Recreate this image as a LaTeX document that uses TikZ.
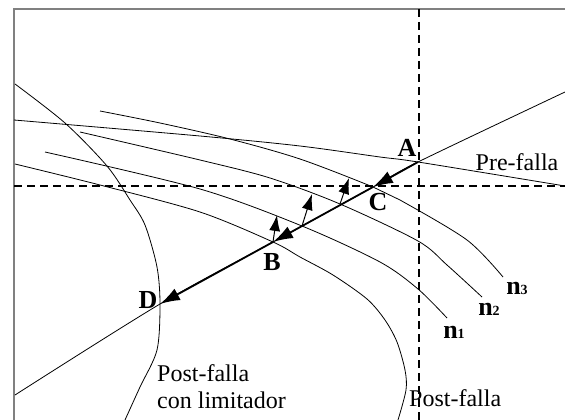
\documentclass[tikz,border=0pt]{standalone}
\usepackage{fontspec}
\setmainfont{Liberation Serif}
\usetikzlibrary{arrows.meta}

\begin{document}
\begin{tikzpicture}[
  x=1pt, y=-1pt,
  font=\fontsize{24}{27}\selectfont,
  >={Latex[length=20pt,width=13pt]},
  every node/.style={inner sep=0pt},
  curve/.style={line width=0.8pt},
  axis/.style={line width=1.7pt, dash pattern=on 8pt off 5pt},
  frame/.style={gray, line width=1.5pt},
  arr/.style={->, line width=1.8pt},
  darr/.style={-{Latex[length=16pt,width=11pt]}, line width=1pt},
  pt/.style={font=\fontsize{26}{28}\selectfont\bfseries},
  nlab/.style={font=\fontsize{26}{28}\selectfont\bfseries}
]
\useasboundingbox (0,0) rectangle (565,420);
\draw[frame] (14,420) -- (14,9) -- (565,9);
\draw[axis] (14,186) -- (565,186);
\draw[axis] (419,9) -- (419,420);

% puntos de operacion
\coordinate (A) at (418,162);
\coordinate (C) at (373,187);
\coordinate (B) at (273,242);
\coordinate (D) at (160,304);
\coordinate (R) at (565,92);
\coordinate (L) at (15,395);
\coordinate (E1) at (302,226);
\coordinate (E2) at (340,204);
\coordinate (T1) at (277,215);
\coordinate (T2) at (312,194);
\coordinate (T3) at (349,178);

% curvas
\draw[curve] plot[smooth] coordinates {(R) (A) (C) (B) (D) (L)};
\draw[curve] plot[smooth] coordinates {(14,120) (200,136) (300,146) (380,157) (A) (565,186)};
\draw[curve] plot[smooth] coordinates {(100,111) (160,123) (230,139) (300,159) (C) (400,200) (467,240) (503,277)};
\draw[curve] plot[smooth] coordinates {(80,132) (200,160) (270,178) (E2) (418,241) (447,265) (482,297)};
\draw[curve] plot[smooth] coordinates {(45,152) (200,189) (E1) (380,262) (418,289) (447,318)};
\draw[curve] plot[smooth] coordinates {(15,164) (100,185) (200,212) (B) (300,257) (333,275) (367,299) (385,320) (397,342) (405,370) (406,390) (398,420)};
\draw[curve] plot[smooth] coordinates {(15,84) (65,123) (107,166) (130,200) (145,225) (157,267) (D) (157,350) (140,387) (125,420)};

% trayectoria
\draw[arr] (A) -- (C);
\draw[arr] (C) -- (B);
\draw[arr] (B) -- (D);
\draw[darr] (B) -- (T1);
\draw[darr] (E1) -- (T2);
\draw[darr] (E2) -- (T3);

\node[pt] (labA) at (407,148) {A};
\node[pt] (labC) at (378,202) {C};
\node[pt] (labB) at (272,262) {B};
\node[pt] (labD) at (148,300) {D};
\node (pre) at (517,162) {Pre-falla};
\node[anchor=west] (post) at (409,398) {Post-falla};
\node[anchor=west] (lim1) at (157,373) {Post-falla};
\node[anchor=west] (lim2) at (157,400) {con limitador};
\node[nlab] (n3) at (517,288) {n{\fontsize{14}{14}\selectfont 3}};
\node[nlab] (n2) at (489,309) {n{\fontsize{14}{14}\selectfont 2}};
\node[nlab] (n1) at (454,332) {n{\fontsize{14}{14}\selectfont 1}};
\end{tikzpicture}
\end{document}
